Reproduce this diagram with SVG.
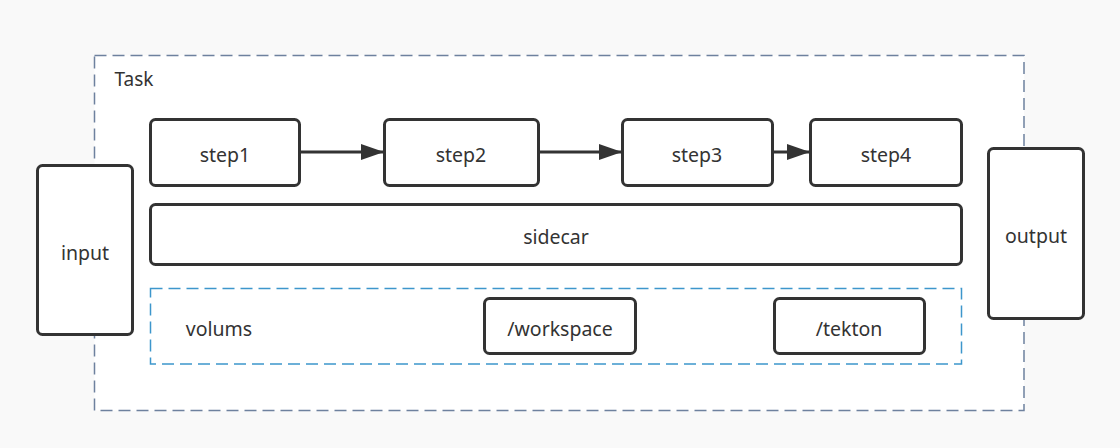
<svg xmlns="http://www.w3.org/2000/svg" width="1120" height="448" viewBox="0 0 1120 448">
<style>
.n{fill:#fff;stroke:#333;stroke-width:3}
.t{font-family:"Noto Sans","Open Sans","Liberation Sans",sans-serif;font-size:19.5px;fill:#333;text-anchor:middle;dominant-baseline:central}
.c{stroke:#333;stroke-width:3;fill:none}
</style>
<defs>
<marker id="ah" viewBox="0 0 23 16" refX="23" refY="8" markerWidth="23" markerHeight="16" markerUnits="userSpaceOnUse" orient="auto">
<path d="M0,0 L23,8 L0,16 Z" fill="#333"/>
</marker>
</defs>
<rect width="1120" height="448" fill="#f9f9f9"/>
<g id="task">
<rect x="94.5" y="55.5" width="929.5" height="355" fill="#fff" stroke="#6e819e" stroke-width="1.5" stroke-dasharray="12 6"/>
<text class="t" x="134" y="79" style="font-size:19px">Task</text>
</g>
<g id="input"><rect class="n" x="37.5" y="165.5" width="95" height="169" rx="5"/><text class="t" x="85" y="252">input</text></g>
<g id="output"><rect class="n" x="988.5" y="148.5" width="95" height="170" rx="5"/><text class="t" x="1036" y="235">output</text></g>
<g id="step1"><rect class="n" x="150.5" y="119.5" width="149" height="66" rx="5"/><text class="t" x="225" y="154">step1</text></g>
<g id="step2"><rect class="n" x="384.5" y="119.5" width="154" height="66" rx="5"/><text class="t" x="461" y="154">step2</text></g>
<g id="step3"><rect class="n" x="622.5" y="119.5" width="150" height="66" rx="5"/><text class="t" x="697" y="154">step3</text></g>
<g id="step4"><rect class="n" x="810.5" y="119.5" width="151" height="66" rx="5"/><text class="t" x="886" y="154">step4</text></g>
<g id="sidecar"><rect class="n" x="150.5" y="204.5" width="811" height="60" rx="5"/><text class="t" x="556" y="236">sidecar</text></g>
<g id="volums">
<rect x="150.5" y="288.5" width="811" height="75.5" fill="none" stroke="#3d96cc" stroke-width="1.5" stroke-dasharray="12 6"/>
<text class="t" x="219" y="328">volums</text>
</g>
<g id="workspace"><rect class="n" x="484.5" y="298.5" width="151" height="55" rx="5"/><text class="t" x="560" y="328">/workspace</text></g>
<g id="tekton"><rect class="n" x="774.5" y="298.5" width="150" height="55" rx="5"/><text class="t" x="849" y="328">/tekton</text></g>
<g id="connectors">
<line class="c" x1="300" y1="152" x2="384" y2="152" marker-end="url(#ah)"/>
<line class="c" x1="539" y1="152" x2="622" y2="152" marker-end="url(#ah)"/>
<line class="c" x1="773" y1="152" x2="810" y2="152" marker-end="url(#ah)"/>
</g>
</svg>
